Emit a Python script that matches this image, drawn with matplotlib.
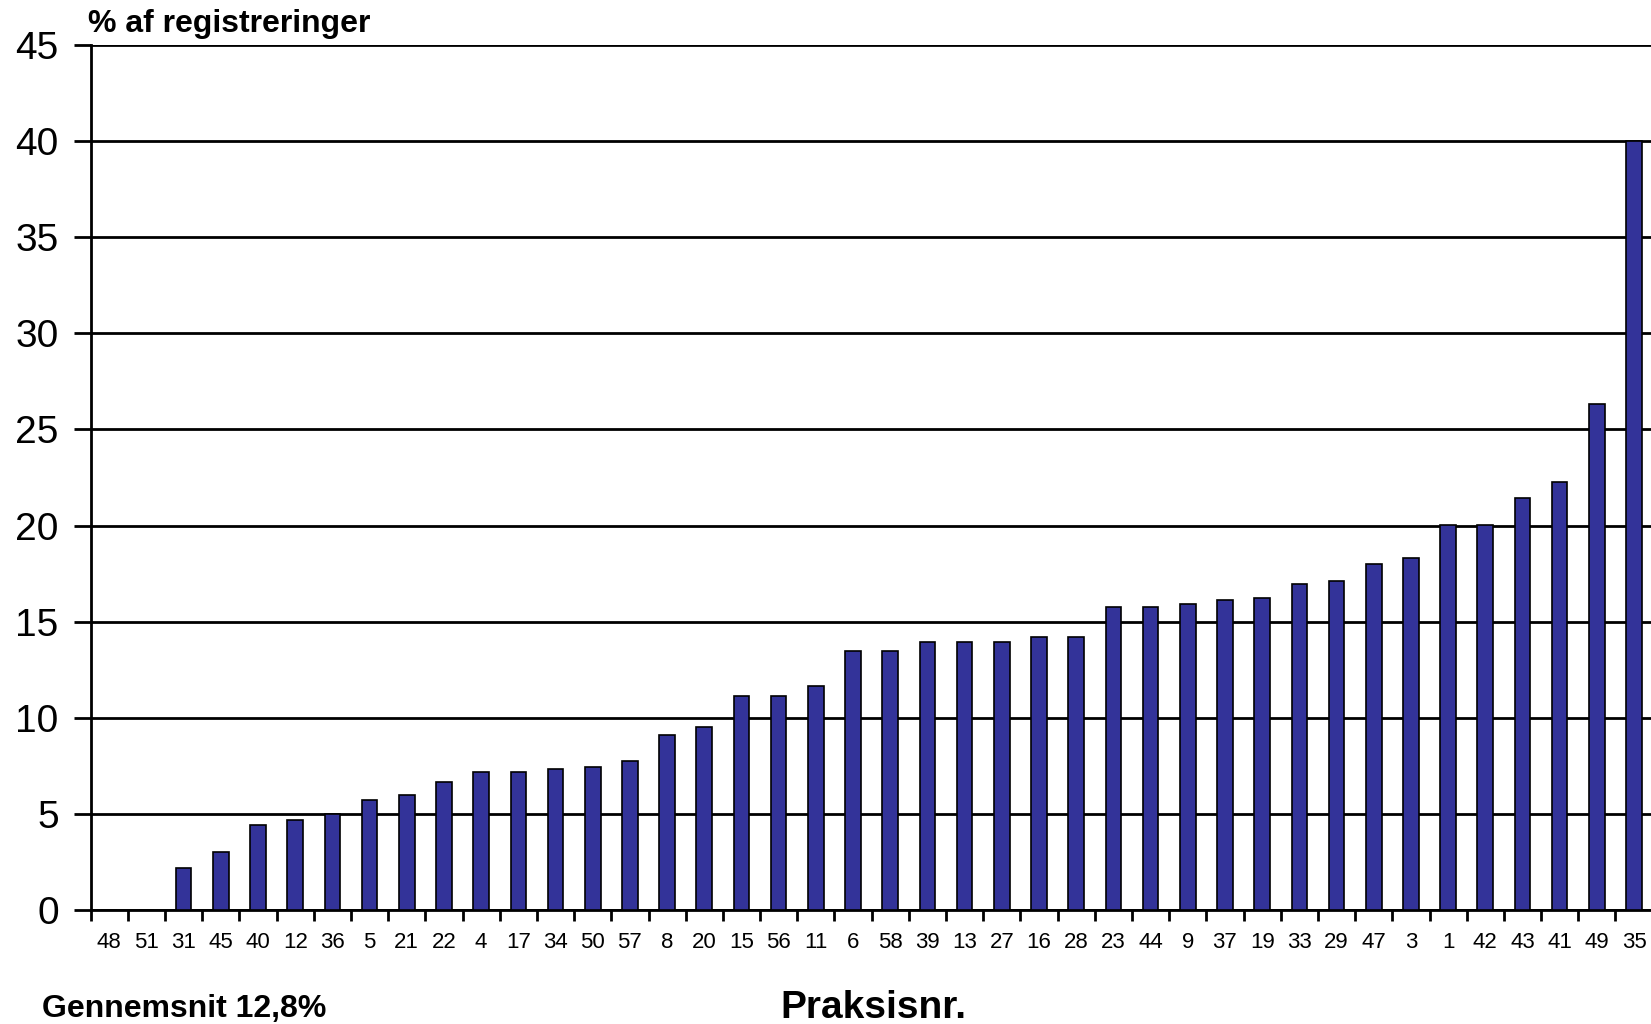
import numpy as np
from matplotlib import pyplot as plt

praksis = ['48', '51', '31', '45', '40', '12', '36', '5', '21', '22', '4', '17', '34', '50',
           '57', '8', '20', '15', '56', '11', '6', '58', '39', '13', '27', '16', '28', '23',
           '44', '9', '37', '19', '33', '29', '47', '3', '1', '42', '43', '41', '49', '35']
pct = [0, 0, 2.2, 3.0, 4.4, 4.7, 5.0, 5.7, 6.0, 6.65, 7.2, 7.2, 7.35, 7.45,
       7.75, 9.1, 9.5, 11.15, 11.15, 11.65, 13.45, 13.45, 13.95, 13.95, 13.95, 14.2, 14.2, 15.75,
       15.75, 15.9, 16.15, 16.25, 16.95, 17.1, 18.0, 18.3, 20.05, 20.05, 21.45, 22.25, 26.35, 40.0]
yticks = [0, 5, 10, 15, 20, 25, 30, 35, 40, 45]

plt.rcParams['font.family'] = ['Liberation Sans', 'DejaVu Sans']

fig = plt.figure(figsize=(16.51, 10.24), dpi=100)
ax = fig.add_axes([0.0549, 0.1113, 0.9461, 0.8447])

x = np.arange(len(praksis))
ax.bar(x, pct, width=0.42, color='#333399', edgecolor='black', linewidth=1.2, zorder=3)

ax.set_xlim(-0.5, len(praksis) - 0.5)
ax.set_ylim(0, 45)
ax.set_yticks(yticks)
ax.set_yticklabels([str(v) for v in yticks], fontsize=28)
ax.tick_params(axis='y', length=12, width=2, pad=11, color='black')
ax.yaxis.grid(True, color='black', linewidth=2)
ax.set_axisbelow(True)

# ticks on boundaries, labels centered
ax.set_xticks(np.arange(-0.5, len(praksis) + 0.5, 1))
ax.set_xticklabels([])
ax.set_xticks(x, minor=True)
ax.set_xticklabels(praksis, minor=True, fontsize=16)
ax.tick_params(axis='x', which='major', length=8, width=2, color='black')
ax.tick_params(axis='x', which='minor', length=0, pad=16)

for s in ['top', 'right']:
    ax.spines[s].set_visible(False)
for s in ['left', 'bottom']:
    ax.spines[s].set_linewidth(2)

fig.text(0.0533, 0.977, '% af registreringer', fontsize=23, fontweight='bold', va='center', ha='left')
fig.text(0.0254, 0.015, 'Gennemsnit 12,8%', fontsize=23, fontweight='bold', va='center', ha='left')
fig.text(0.529, 0.016, 'Praksisnr.', fontsize=28, fontweight='bold', va='center', ha='center')

fig.savefig('out.png', dpi=100)
